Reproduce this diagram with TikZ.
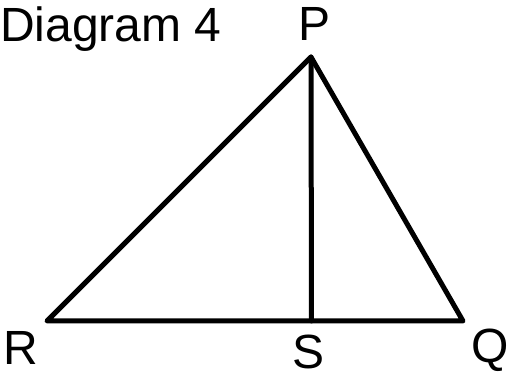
\documentclass[tikz,border=0pt]{standalone}
\usepackage{fontspec}
\setmainfont{Liberation Sans}
\begin{document}
\begin{tikzpicture}[x=1pt,y=1pt,
  edge/.style={line width=5pt,line cap=round,line join=round,black},
  lab/.style={inner sep=0pt,anchor=base,font=\fontsize{48}{48}\selectfont}]
\useasboundingbox (0,0) rectangle (509,372);
\coordinate (P) at (311,315);
\coordinate (R) at (47,51);
\coordinate (Q) at (463,51);
\coordinate (S) at (311.5,51);
\draw[edge] (R) -- (P) -- (Q) -- cycle;
\draw[edge] (P) -- (S);
\node[lab,anchor=base west] (title) at (0,330) {Diagram 4};
\node[lab] (lP) at (314.5,331) {P};
\node[lab] (lR) at (20.5,7) {R};
\node[lab] (lS) at (309,3) {S};
\node[lab] (lQ) at (490.5,9) {Q};
\end{tikzpicture}
\end{document}
